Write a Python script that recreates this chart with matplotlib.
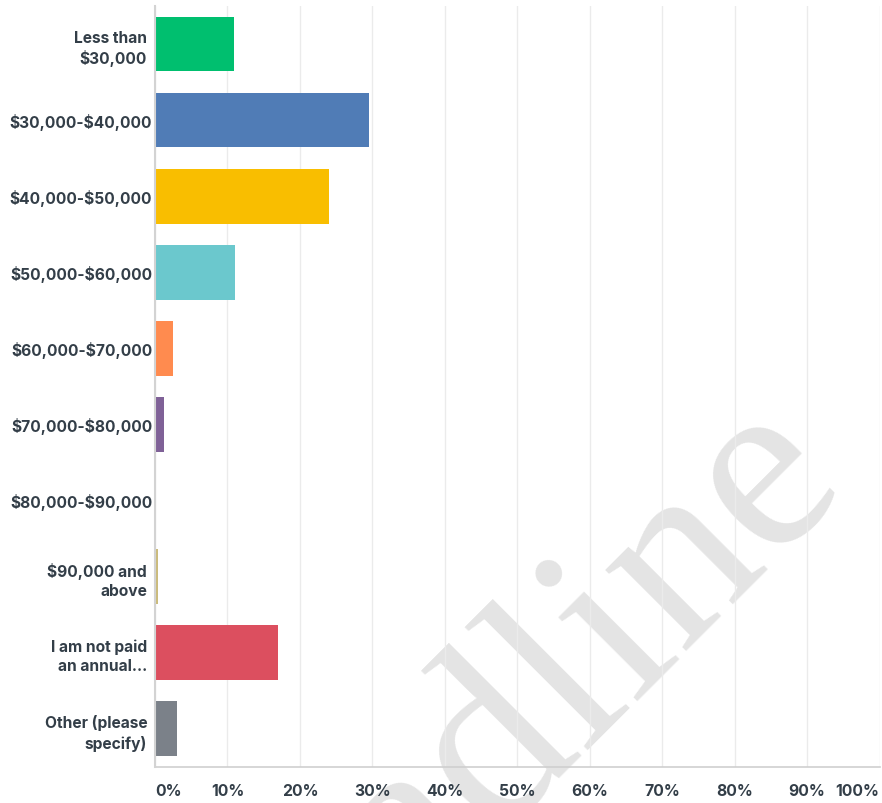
import matplotlib
matplotlib.use("Agg")
import matplotlib.pyplot as plt
import matplotlib.transforms as mtransforms

# Survey responses: annual pay bands (percent of respondents)
categories = [
    "Less than\n$30,000",
    "$30,000-$40,000",
    "$40,000-$50,000",
    "$50,000-$60,000",
    "$60,000-$70,000",
    "$70,000-$80,000",
    "$80,000-$90,000",
    "$90,000 and\nabove",
    "I am not paid\nan annual...",
    "Other (please\nspecify)",
]
percentages = [10.9, 29.55, 24.0, 11.0, 2.5, 1.25, 0.0, 0.37, 16.95, 3.05]
bar_colors = ["#00bf6f", "#507cb6", "#f9be00", "#6bc8cd", "#ff8b4f",
              "#7f6197", "#d25f90", "#cbbb7c", "#dc4f5f", "#7b8189"]
tick_values = list(range(0, 101, 10))
tick_labels = [f"{v}%" for v in tick_values]

TEXT = "#333e48"
FONT = "Inter"
W, H, DPI = 882, 804, 100

fig = plt.figure(figsize=(W / DPI, H / DPI), dpi=DPI, facecolor="white")
left, right, top, bottom = 155, 879.5, 7, 767.5
ax = fig.add_axes([left / W, 1 - bottom / H, (right - left) / W, (bottom - top) / H])
ax.patch.set_visible(False)

y = list(range(len(categories)))
ax.barh(y, percentages, height=0.72, color=bar_colors, zorder=3)

ax.set_xlim(0, 100)
ax.set_ylim(len(categories) - 0.5, -0.5)

ax.set_xticks(tick_values)
ax.set_xticklabels(tick_labels)
ax.set_yticks(y)
# dollar signs are literal text, not math delimiters
ax.set_yticklabels([c.replace("$", r"\$") for c in categories])

ax.tick_params(axis="both", length=0, colors=TEXT)
ax.tick_params(axis="y", pad=2)
ax.tick_params(axis="x", pad=12)

for lab in ax.get_yticklabels():
    lab.set_fontfamily(FONT)
    lab.set_fontweight("bold")
    lab.set_fontsize(11.2)
    lab.set_linespacing(1.35)
    lab.set_horizontalalignment("right")
    if "\n" in lab.get_text():
        lab.set_transform(lab.get_transform() +
                          mtransforms.ScaledTranslation(-5 / DPI, 0, fig.dpi_scale_trans))

xl = ax.get_xticklabels()
for lab in xl:
    lab.set_fontfamily(FONT)
    lab.set_fontweight("bold")
    lab.set_fontsize(11.3)
xl[0].set_horizontalalignment("left")
xl[-1].set_horizontalalignment("right")

ax.grid(axis="x", color="#ebebeb", linewidth=1.0, zorder=0)
ax.grid(axis="y", visible=False)

for side in ("top", "right"):
    ax.spines[side].set_visible(False)
ax.spines["left"].set_color("#d3d3d3")
ax.spines["left"].set_linewidth(1.5)
ax.spines["left"].set_zorder(4)
ax.spines["bottom"].set_color("#cfcfcf")
ax.spines["bottom"].set_linewidth(1.2)
ax.spines["bottom"].set_bounds(0, 100)

# faint diagonal watermark behind the chart
fig.text(0.552, 0.056, "Headline", rotation=45, fontsize=180,
         family="Liberation Serif", color="black", alpha=0.11,
         ha="center", va="center", rotation_mode="anchor", zorder=-1)

fig.savefig("out.png", dpi=DPI, facecolor="white")
